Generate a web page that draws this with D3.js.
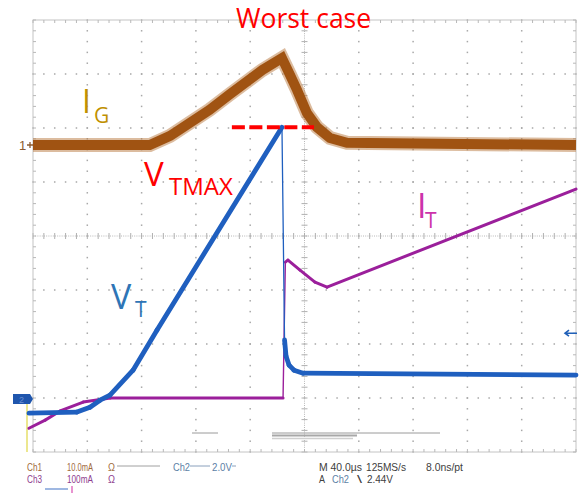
<!DOCTYPE html>
<html>
<head>
<meta charset="utf-8">
<script src="https://cdn.jsdelivr.net/npm/d3@7"></script>
<style>
  html, body { margin: 0; padding: 0; background: #fff; }
  svg { display: block; }
</style>
</head>
<body>
<svg id="chart" width="581" height="495"></svg>
<script>
// ---------- data ----------
// time in microseconds (40 us/div, 10 div)
const igTime     = [-200, -114, -99, -70, -55, -31, -16.6, -10.7, -5.5, 1.8, 9.2, 18.8, 31.3, 200];
const igMilliamp = [0, 0, 1.7, 6.5, 9.4, 13.9, 16.1, 13, 10.2, 5.9, 3.3, 1.3, 0.4, 0];   // Ch1, 10 mA/div

const vtTime  = [-203, -167.6, -158, -150.6, -143.3, -126.3, -108.6, -16.6, -14.7, -13.6, -11.4, -7.7, -1.1, 200];
const vtVolts = [-0.52, -0.48, -0.3, -0.04, 0.15, 1.07, 2.56, 10.07, 2.19, 1.59, 1.26, 1.07, 0.96, 0.89]; // Ch2, 2 V/div

const itTime     = [-203, -191, -180, -163, -143, -15.8, -14.1, -12.2, -3.3, 7.7, 16.6, 200];
const itMilliamp = [-54, -39, -22, -5.6, 1.9, 1.9, 253.7, 257.4, 238.9, 216.7, 207.4, 388.9];        // Ch3, 100 mA/div

const vtMaxLevel = 10.07;           // V, red dashed marker
const vtMaxSpan  = [-53.5, 7];      // us
const triggerLevel = 2.44;          // V

const channels = {
  ch1: { offsetDiv: 1.685, perDiv: 10 },
  ch2: { offsetDiv: -3.02, perDiv: 2 },
  ch3: { offsetDiv: -3.02, perDiv: 100 }
};

const statusRow1 = [
  { text: "Ch1", x: 27, w: 15, color: "#a06a3c" },
  { text: "10.0mA", x: 67, w: 26, color: "#a06a3c" },
  { text: "Ω", x: 108, w: 7, color: "#a06a3c" },
  { text: "Ch2", x: 173, w: 17, color: "#5d7fa6" },
  { text: "2.0V", x: 212, w: 20, color: "#5d7fa6" },
  { text: "M 40.0µs", x: 319, w: 43, color: "#404040" },
  { text: "125MS/s", x: 366, w: 40, color: "#404040" },
  { text: "8.0ns/pt", x: 426, w: 37, color: "#404040" }
];
const statusRow2 = [
  { text: "Ch3", x: 27, w: 15, color: "#8e3c8e" },
  { text: "100mA", x: 67, w: 26, color: "#8e3c8e" },
  { text: "Ω", x: 108, w: 7, color: "#8e3c8e" },
  { text: "A", x: 319, w: 6, color: "#404040" },
  { text: "Ch2", x: 332, w: 17, color: "#5d7fa6" },
  { text: "\\", x: 357, w: 5, color: "#404040" },
  { text: "2.44V", x: 367, w: 26, color: "#404040" }
];

// ---------- scales ----------
const L = 33, R = 576, T = 20, B = 452;
const x = d3.scaleLinear().domain([-200, 200]).range([L, R]);
const y = d3.scaleLinear().domain([-4, 4]).range([B, T]);
const chY = (ch, v) => y(channels[ch].offsetDiv + v / channels[ch].perDiv);

const svg = d3.select("#chart");

// ---------- graticule ----------
const g = svg.append("g");
const divT = d3.range(-200, 201, 40);
const divY = d3.range(-4, 5, 1);
const subT = d3.range(-200, 200.1, 8);
const subY = d3.range(-4, 4.01, 0.2);

divT.filter(t => t !== -200 && t !== 200 && t !== 0).forEach(t => {
  g.selectAll(null).data(subY).join("rect")
    .attr("x", x(t) - 0.75).attr("y", d => y(d) - 0.75)
    .attr("width", 1.5).attr("height", 1.5).attr("fill", "#a8a8a8");
});
divY.filter(d => d !== -4 && d !== 4 && d !== 0).forEach(d => {
  g.selectAll(null).data(subT).join("rect")
    .attr("x", t => x(t) - 0.75).attr("y", y(d) - 0.75)
    .attr("width", 1.5).attr("height", 1.5).attr("fill", "#a8a8a8");
});
g.append("line").attr("x1", L).attr("x2", R).attr("y1", y(0)).attr("y2", y(0))
  .attr("stroke", "#b8b8b8").attr("stroke-dasharray", "1,1.2");
g.append("line").attr("x1", x(0)).attr("x2", x(0)).attr("y1", T).attr("y2", B)
  .attr("stroke", "#b8b8b8").attr("stroke-dasharray", "1,1.2");
g.selectAll(null).data(subT).join("line")
  .attr("x1", t => x(t)).attr("x2", t => x(t))
  .attr("y1", y(0) - 3).attr("y2", y(0) + 3).attr("stroke", "#b0b0b0");
g.selectAll(null).data(subY).join("line")
  .attr("y1", d => y(d)).attr("y2", d => y(d))
  .attr("x1", x(0) - 3).attr("x2", x(0) + 3).attr("stroke", "#b0b0b0");
g.append("rect").attr("x", L).attr("y", T).attr("width", R - L).attr("height", B - T)
  .attr("fill", "none").attr("stroke", "#c4c4c4");
g.selectAll(null).data(subT).join("line")
  .attr("x1", t => x(t)).attr("x2", t => x(t)).attr("y1", T).attr("y2", T + 3).attr("stroke", "#b8b8b8");
g.selectAll(null).data(subT).join("line")
  .attr("x1", t => x(t)).attr("x2", t => x(t)).attr("y1", B).attr("y2", B - 3).attr("stroke", "#b8b8b8");
g.selectAll(null).data(subY).join("line")
  .attr("y1", d => y(d)).attr("y2", d => y(d)).attr("x1", L).attr("x2", L + 3).attr("stroke", "#b8b8b8");
g.selectAll(null).data(subY).join("line")
  .attr("y1", d => y(d)).attr("y2", d => y(d)).attr("x1", R).attr("x2", R - 3).attr("stroke", "#b8b8b8");

// scope artefacts in the lower area
g.append("line").attr("x1", 27).attr("x2", 27).attr("y1", 400).attr("y2", B).attr("stroke", "#e6df6a").attr("stroke-width", 1.5);
[[192, 218, 433, "#9a9a9a", 1], [272, 440, 433, "#9a9a9a", 1], [272, 357, 435.5, "#a8a8a8", 2], [272, 353, 438.5, "#cfcfcf", 1.5]]
  .forEach(s => g.append("line").attr("x1", s[0]).attr("x2", s[1]).attr("y1", s[2]).attr("y2", s[2])
    .attr("stroke", s[3]).attr("stroke-width", s[4]));

// ---------- traces ----------
const line = d3.line().x(d => x(d.t)).y(d => d.y);

function drawSegmented(pts, color, wide, thin) {
  for (let i = 0; i < pts.length - 1; i++) {
    const a = pts[i], b = pts[i + 1];
    const dx = Math.abs(x(b.t) - x(a.t)), dy = Math.abs(b.y - a.y);
    const steep = dy / Math.max(dx, 0.01) > 20;
    svg.append("path").attr("d", line([a, b])).attr("fill", "none")
      .attr("stroke", color).attr("stroke-width", steep ? thin : wide)
      .attr("stroke-linecap", "round").attr("stroke-linejoin", "round");
  }
}

const itPts = itTime.map((t, i) => ({ t, y: chY("ch3", itMilliamp[i]) }));
drawSegmented(itPts, "#9b1f9b", 3, 1.4);

const vtPts = vtTime.map((t, i) => ({ t, y: chY("ch2", vtVolts[i]) }));
drawSegmented(vtPts, "#1f5fbf", 4.8, 1.3);

const igPts = igTime.map((t, i) => ({ t, y: chY("ch1", igMilliamp[i]) }));
svg.append("path").attr("d", line(igPts)).attr("fill", "none")
  .attr("stroke", "#b97a40").attr("stroke-opacity", 0.5).attr("stroke-width", 14).attr("stroke-linejoin", "miter");
svg.append("path").attr("d", line(igPts)).attr("fill", "none")
  .attr("stroke", "#a05312").attr("stroke-width", 10).attr("stroke-linejoin", "miter");

// ---------- channel markers ----------
const g1 = chY("ch1", 0);
svg.append("text").attr("x", 19).attr("y", g1 + 5).text("1")
  .attr("font-family", "Liberation Sans, Arial, sans-serif").attr("font-size", 13).attr("fill", "#8a5a30");
svg.append("path").attr("d", `M27,${g1} H33 M30,${g1 - 3} V${g1 + 3}`).attr("stroke", "#8a5a30").attr("stroke-width", 1.3);

const g2 = chY("ch2", 0);
svg.append("path").attr("d", `M13,${g2 - 5} H30 L33,${g2} L30,${g2 + 5} H13 Z`).attr("fill", "#1f56ad");
svg.append("text").attr("x", 19).attr("y", g2 + 4).text("2")
  .attr("font-family", "Liberation Sans, Arial, sans-serif").attr("font-size", 9).attr("fill", "#6d8fd0");

const trg = chY("ch2", triggerLevel);
svg.append("path").attr("d", `M566,${trg} H577 M569,${trg - 3} L565,${trg} L569,${trg + 3}`)
  .attr("stroke", "#2060b8").attr("stroke-width", 1.6).attr("fill", "none");

// ---------- annotations ----------
svg.append("line")
  .attr("x1", x(vtMaxSpan[0])).attr("x2", x(vtMaxSpan[1]))
  .attr("y1", chY("ch2", vtMaxLevel)).attr("y2", chY("ch2", vtMaxLevel))
  .attr("stroke", "#ff0000").attr("stroke-width", 4).attr("stroke-dasharray", "13,4.5");

const ann = svg.append("g").attr("font-family", "'Open Sans', 'Liberation Sans', sans-serif");
ann.append("text").attr("x", 236).attr("y", 28).text("Worst case").attr("font-size", 26.5).attr("fill", "#ff0000");
ann.append("text").attr("x", 82).attr("y", 113).text("I").attr("font-size", 32).attr("fill", "#bf9000");
ann.append("text").attr("x", 94).attr("y", 123).text("G").attr("font-size", 21).attr("fill", "#bf9000");
ann.append("text").attr("x", 144).attr("y", 186).text("V").attr("font-size", 33).attr("fill", "#ff0000");
ann.append("text").attr("x", 169).attr("y", 195).text("TMAX").attr("font-size", 24).attr("fill", "#ff0000");
ann.append("text").attr("x", 111).attr("y", 309).text("V").attr("font-size", 34).attr("fill", "#2e75b6");
ann.append("text").attr("x", 135).attr("y", 317).text("T").attr("font-size", 21).attr("fill", "#2e75b6");
ann.append("text").attr("x", 417).attr("y", 218).text("I").attr("font-size", 34).attr("fill", "#cc33aa");
ann.append("text").attr("x", 425).attr("y", 228).text("T").attr("font-size", 21).attr("fill", "#cc33aa");

// ---------- status bar ----------
const sb = svg.append("g").attr("font-family", "'Liberation Sans', Arial, sans-serif").attr("font-size", 10.5);
sb.selectAll(null).data(statusRow1).join("text")
  .attr("x", d => d.x).attr("y", 471).text(d => d.text).attr("fill", d => d.color)
  .attr("textLength", d => d.w).attr("lengthAdjust", "spacingAndGlyphs");
sb.selectAll(null).data(statusRow2).join("text")
  .attr("x", d => d.x).attr("y", 483).text(d => d.text).attr("fill", d => d.color)
  .attr("textLength", d => d.w).attr("lengthAdjust", "spacingAndGlyphs");
[[117, 160, "#a0a0a0"], [190, 210, "#8aa0bc"], [232, 236, "#8aa0bc"]].forEach(s =>
  sb.append("line").attr("x1", s[0]).attr("x2", s[1]).attr("y1", 466).attr("y2", 466).attr("stroke", s[2]));
svg.append("line").attr("x1", 45).attr("x2", 68).attr("y1", 489).attr("y2", 489).attr("stroke", "#7fa0d8").attr("stroke-width", 1.5);
svg.append("line").attr("x1", 72).attr("x2", 72).attr("y1", 486).attr("y2", 493).attr("stroke", "#e070c0").attr("stroke-width", 1.5);
</script>
</body>
</html>
